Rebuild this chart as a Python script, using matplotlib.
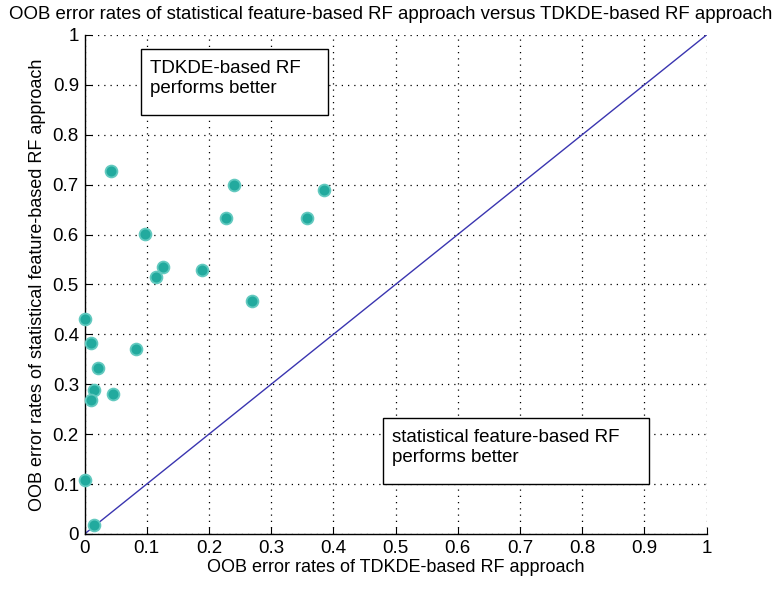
import matplotlib
matplotlib.use('Agg')
import matplotlib.pyplot as plt

plt.rcParams['font.family'] = ['Liberation Sans', 'DejaVu Sans']

# OOB error rates per dataset
tdkde_err = [0.043, 0.098, 0.115, 0.126, 0.189, 0.228, 0.241, 0.270, 0.358, 0.385,
             0.0, 0.011, 0.021, 0.082, 0.015, 0.011, 0.045, 0.0, 0.016]
stat_err = [0.728, 0.601, 0.514, 0.535, 0.529, 0.633, 0.699, 0.466, 0.633, 0.690,
            0.431, 0.382, 0.332, 0.370, 0.289, 0.268, 0.280, 0.109, 0.019]
ticks = [0, 0.1, 0.2, 0.3, 0.4, 0.5, 0.6, 0.7, 0.8, 0.9, 1]
tick_labels = ['0', '0.1', '0.2', '0.3', '0.4', '0.5', '0.6', '0.7', '0.8', '0.9', '1']

fig = plt.figure(figsize=(7.79, 5.92), dpi=100)
ax = fig.add_axes([0.1085, 0.098, 0.7985, 0.843])

ax.plot([0, 1], [0, 1], color='#3a35b0', linewidth=1.0, zorder=2)
ax.plot(tdkde_err, stat_err, 'o', color='#22aa9e', markeredgecolor='#62c9bf',
        markeredgewidth=1.3, markersize=8.5, linestyle='none', zorder=3, clip_on=False)

ax.set_xlim(0, 1)
ax.set_ylim(0, 1)
ax.set_xticks(ticks)
ax.set_yticks(ticks)
ax.set_xticklabels(tick_labels)
ax.set_yticklabels(tick_labels)
ax.tick_params(direction='in', length=5, width=0.8, labelsize=13.5, pad=4, colors='black')
ax.grid(True, linestyle=(0, (1, 4)), color='black', linewidth=0.9)
ax.set_axisbelow(True)
for side in ['top', 'right']:
    ax.spines[side].set_visible(False)
for side in ['left', 'bottom']:
    ax.spines[side].set_linewidth(1.0)

fig.text(0.501, 0.968, 'OOB error rates of statistical feature-based RF approach versus TDKDE-based RF approach',
         fontsize=13.4, ha='center', va='baseline')
ax.set_xlabel('OOB error rates of TDKDE-based RF approach', fontsize=13, labelpad=2)
ax.set_ylabel('OOB error rates of statistical feature-based RF approach', fontsize=13, labelpad=5)

# annotation boxes
ax.add_patch(plt.Rectangle((0.090, 0.840), 0.302, 0.131, transform=ax.transData,
                           facecolor='white', edgecolor='black', linewidth=1.0, zorder=4))
ax.text(0.105, 0.950, 'TDKDE-based RF\nperforms better', fontsize=13.5, va='top', ha='left',
        linespacing=1.22, zorder=5)

ax.add_patch(plt.Rectangle((0.480, 0.100), 0.428, 0.132, transform=ax.transData,
                           facecolor='white', edgecolor='black', linewidth=1.0, zorder=4))
ax.text(0.494, 0.210, 'statistical feature-based RF\nperforms better', fontsize=13.5,
        va='top', ha='left', linespacing=1.22, zorder=5)

fig.savefig('out.png', dpi=100)
